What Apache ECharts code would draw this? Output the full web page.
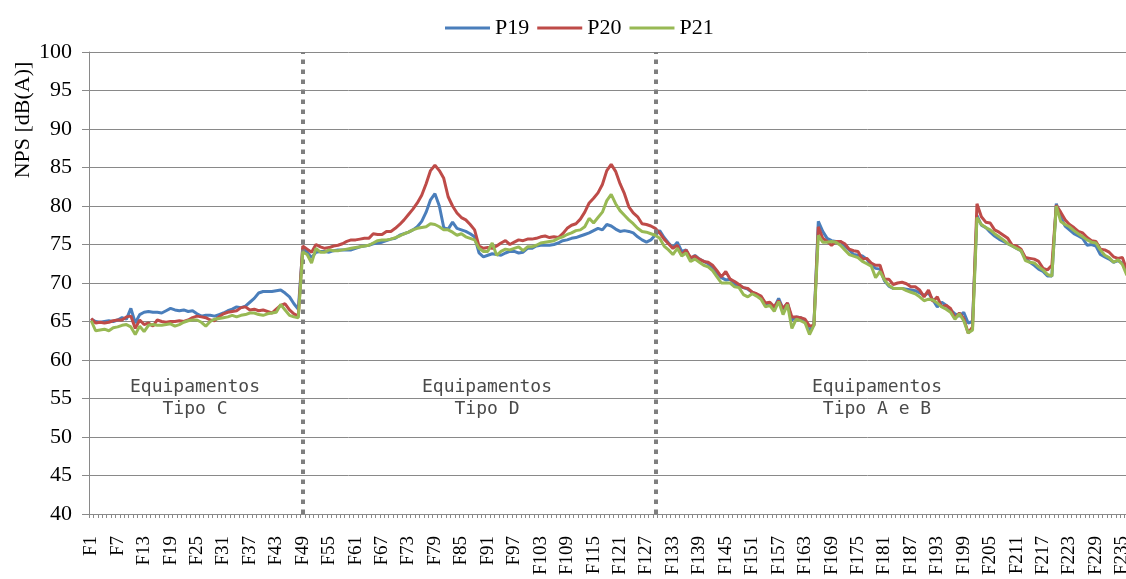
<!DOCTYPE html>
<html>
<head>
<meta charset="utf-8">
<script src="https://cdn.jsdelivr.net/npm/echarts@6/dist/echarts.min.js"></script>
<style>html,body{margin:0;padding:0;background:#fff}#c{width:1126px;height:579px}</style>
</head>
<body>
<div id="c"></div>
<script>
var categoryCount = 236;
var categories = [];
for (var i = 1; i <= categoryCount; i++) categories.push('F' + i);

var seriesNames = ['P19', 'P20', 'P21'];
var seriesColors = ['#4A7EBB', '#BE4B48', '#98B954'];

var yTicks = { min: 40, max: 100, interval: 5 };

var p19 = [
65.3,65.0,64.9,65.0,65.1,65.0,65.2,65.5,65.3,66.7,
64.8,65.9,66.2,66.3,66.2,66.2,66.1,66.4,66.7,66.5,
66.4,66.5,66.3,66.4,66.0,65.7,65.8,65.8,65.7,65.9,
66.1,66.4,66.6,66.9,66.8,67.0,67.5,68.0,68.7,68.9,
68.9,68.9,69.0,69.1,68.7,68.2,67.3,66.6,74.5,74.0,
73.3,74.0,74.1,74.1,74.0,74.2,74.3,74.3,74.3,74.3,
74.5,74.7,74.8,74.9,75.1,75.2,75.3,75.5,75.7,75.8,
76.2,76.4,76.6,76.9,77.3,78.0,79.2,80.8,81.6,80.0,
77.2,77.0,77.9,77.1,76.9,76.7,76.4,76.0,73.9,73.4,
73.6,73.8,73.7,73.6,73.9,74.1,74.1,73.9,74.0,74.5,
74.5,74.8,74.9,74.9,74.9,75.0,75.2,75.5,75.6,75.8,
75.9,76.1,76.3,76.5,76.8,77.1,76.9,77.6,77.4,77.0,
76.7,76.8,76.7,76.5,76.0,75.6,75.3,75.6,76.2,76.8,
75.9,75.2,74.6,75.3,74.1,74.3,73.1,73.6,73.1,72.8,
72.5,72.0,71.3,70.7,70.4,70.5,69.8,69.6,69.4,69.2,
68.8,68.5,68.2,67.3,67.2,66.8,68.0,66.6,67.4,65.2,
65.6,65.5,65.0,63.8,64.6,78.0,76.7,75.8,75.5,75.4,
75.4,74.8,74.3,73.7,73.6,73.5,73.1,72.3,71.9,71.8,
70.3,69.6,69.3,69.3,69.3,69.2,69.1,69.0,68.7,68.4,
68.7,67.8,66.9,67.5,67.1,66.5,66.0,65.7,66.2,64.8,
65.0,78.8,77.5,77.2,76.6,76.1,75.7,75.4,75.1,74.8,
74.5,74.2,73.2,72.7,72.3,71.8,71.5,70.9,70.9,80.3,
78.5,77.4,76.9,76.4,76.1,75.8,74.9,75.0,74.8,73.7,
73.4,73.1,72.7,72.9,72.6,71.4
];

var p20 = [
65.4,64.8,64.9,64.8,64.9,65.1,65.2,65.2,65.6,65.7,
64.1,65.2,64.6,64.8,64.4,65.2,65.0,64.9,65.0,65.0,
65.1,65.0,65.2,65.5,65.7,65.6,65.5,65.2,65.1,65.6,
66.0,66.2,66.3,66.4,66.8,66.9,66.5,66.6,66.4,66.5,
66.3,66.1,66.6,67.1,67.3,66.5,66.0,65.7,74.8,74.4,
74.0,75.0,74.7,74.5,74.6,74.8,74.9,75.1,75.4,75.6,
75.6,75.7,75.8,75.8,76.4,76.3,76.3,76.7,76.7,77.1,
77.6,78.2,78.9,79.6,80.4,81.4,82.9,84.6,85.3,84.6,
83.6,81.2,80.0,79.1,78.5,78.2,77.6,76.9,74.8,74.5,
74.6,74.5,74.8,75.2,75.5,75.0,75.3,75.6,75.5,75.7,
75.7,75.8,76.0,76.1,75.9,76.0,75.9,76.4,77.1,77.5,
77.7,78.3,79.2,80.4,81.0,81.7,82.8,84.6,85.4,84.5,
82.9,81.6,79.9,79.1,78.6,77.7,77.6,77.4,77.1,76.5,
75.7,75.1,74.5,74.9,73.6,74.3,73.3,73.5,73.1,72.8,
72.7,72.3,71.6,70.8,71.5,70.5,70.2,69.8,69.4,69.3,
68.8,68.6,68.3,67.4,67.5,66.9,67.7,66.7,67.4,65.6,
65.6,65.5,65.3,64.4,64.5,77.3,75.8,75.4,74.9,75.4,
75.4,75.1,74.4,74.2,74.1,73.1,73.2,72.6,72.3,72.3,
70.5,70.5,69.8,70.0,70.1,69.9,69.5,69.5,69.1,68.2,
69.1,67.6,68.2,66.9,67.1,66.7,65.4,66.1,65.4,63.5,
64.3,80.3,78.6,77.9,77.8,76.9,76.6,76.2,75.8,74.9,
74.8,74.4,73.3,73.2,73.1,72.8,71.9,71.7,72.3,80.1,
79.2,78.2,77.6,77.2,76.7,76.5,75.9,75.5,75.4,74.4,
74.3,74.0,73.4,73.2,73.3,71.7
];

var p21 = [
65.1,63.8,63.9,64.0,63.8,64.2,64.3,64.5,64.6,64.3,
63.3,64.4,63.7,64.5,64.6,64.5,64.5,64.6,64.7,64.4,
64.6,64.9,65.1,65.2,65.2,64.9,64.4,65.0,65.3,65.4,
65.5,65.6,65.8,65.6,65.8,65.9,66.1,66.1,65.9,65.8,
66.0,66.1,66.2,67.2,66.5,65.8,65.6,65.5,74.0,73.7,
72.6,74.5,74.0,74.0,74.3,74.2,74.2,74.3,74.4,74.5,
74.6,74.7,74.8,74.9,75.2,75.5,75.6,75.6,75.7,75.9,
76.1,76.4,76.6,76.9,77.1,77.2,77.3,77.7,77.6,77.3,
76.9,76.9,76.6,76.2,76.4,76.0,75.8,75.6,74.5,74.1,
74.1,75.2,73.6,74.1,74.4,74.3,74.5,74.7,74.2,74.7,
74.7,74.9,75.2,75.3,75.4,75.5,75.8,76.0,76.3,76.5,
76.8,76.9,77.3,78.4,77.8,78.5,79.2,80.7,81.5,80.3,
79.4,78.8,78.2,77.7,77.1,76.7,76.6,76.4,76.2,75.8,
74.8,74.3,73.7,74.5,73.5,73.9,72.8,73.1,72.7,72.3,
72.1,71.6,70.8,70.0,70.0,70.0,69.5,69.4,68.5,68.2,
68.6,68.3,67.9,66.9,67.1,66.3,67.6,65.9,67.2,64.1,
65.3,65.1,64.8,63.3,64.5,76.2,75.3,75.3,75.4,75.3,
74.9,74.3,73.7,73.5,73.3,72.8,72.5,72.2,70.7,71.5,
70.4,69.7,69.3,69.3,69.3,69.0,68.8,68.6,68.2,67.7,
67.9,67.8,67.4,66.9,66.6,66.2,65.3,66.0,65.1,63.5,
63.9,78.5,77.6,77.2,76.9,76.4,76.0,75.6,75.1,74.8,
74.5,74.2,72.9,72.7,72.6,72.1,71.7,71.1,70.9,80.0,
78.0,77.6,77.3,76.8,76.4,76.0,75.6,75.3,75.2,74.3,
73.6,73.3,72.7,73.0,72.4,71.0
];

var dividers = ['F49', 'F129'];
var sectionLabels = ['Equipamentos\nTipo C', 'Equipamentos\nTipo D', 'Equipamentos\nTipo A e B'];
var yAxisTitle = 'NPS [dB(A)]';

var serif = '"Liberation Serif", "Times New Roman", serif';
var mono = '"DejaVu Sans Mono", "Liberation Mono", monospace';
var gray = '#898989';

var chart = echarts.init(document.getElementById('c'), null, { renderer: 'canvas' });

var seriesData = [p19, p20, p21];
var series = seriesNames.map(function (name, k) {
  var s = {
    name: name,
    type: 'line',
    data: seriesData[k],
    symbol: 'none',
    smooth: false,
    color: seriesColors[k],
    lineStyle: { width: 3, color: seriesColors[k] },
    z: 3 + k
  };
  if (k === 0) {
    s.markLine = {
      silent: true,
      symbol: ['none', 'none'],
      label: { show: false },
      lineStyle: { type: [4.5, 5.5], width: 4, color: '#7f7f7f' },
      data: dividers.map(function (d) { return { xAxis: d }; })
    };
  }
  return s;
});

function sectionText(x, txt) {
  return {
    type: 'text', x: x, y: 376,
    style: { text: txt, font: '18px ' + mono, fill: '#4a4a4a', textAlign: 'center', textVerticalAlign: 'top', lineHeight: 22 }
  };
}

chart.setOption({
  animation: false,
  backgroundColor: '#ffffff',
  legend: {
    data: seriesNames.map(function (n) { return { name: n, icon: 'rect' }; }),
    left: 440,
    top: 12,
    itemWidth: 45,
    itemHeight: 3,
    itemGap: 8,
    textStyle: { fontFamily: serif, fontSize: 22, color: '#000', lineHeight: 22 }
  },
  grid: { left: 89, top: 52, width: 1040, height: 462, containLabel: false, outerBoundsMode: 'none' },
  xAxis: {
    type: 'category',
    data: categories,
    boundaryGap: true,
    axisLine: { lineStyle: { color: gray, width: 1 } },
    axisTick: { show: true, interval: 0, length: 4, lineStyle: { color: gray } },
    axisLabel: {
      interval: 5,
      rotate: 90,
      margin: 22,
      fontFamily: serif,
      fontSize: 19,
      color: '#000'
    },
    splitLine: { show: false }
  },
  yAxis: {
    type: 'value',
    min: yTicks.min,
    max: yTicks.max,
    interval: yTicks.interval,
    axisLine: { show: true, lineStyle: { color: gray, width: 1 } },
    axisTick: { show: true, length: 7, lineStyle: { color: gray } },
    axisLabel: { margin: 17, fontFamily: serif, fontSize: 22, color: '#000' },
    splitLine: { show: true, lineStyle: { color: gray, width: 1 } }
  },
  graphic: [
    {
      type: 'text', x: 23, y: 120, rotation: Math.PI / 2,
      style: { text: yAxisTitle, font: '22px ' + serif, fill: '#000', textAlign: 'center', textVerticalAlign: 'middle' }
    },
    sectionText(195, sectionLabels[0]),
    sectionText(487, sectionLabels[1]),
    sectionText(877, sectionLabels[2])
  ],
  series: series
});
</script>
</body>
</html>
